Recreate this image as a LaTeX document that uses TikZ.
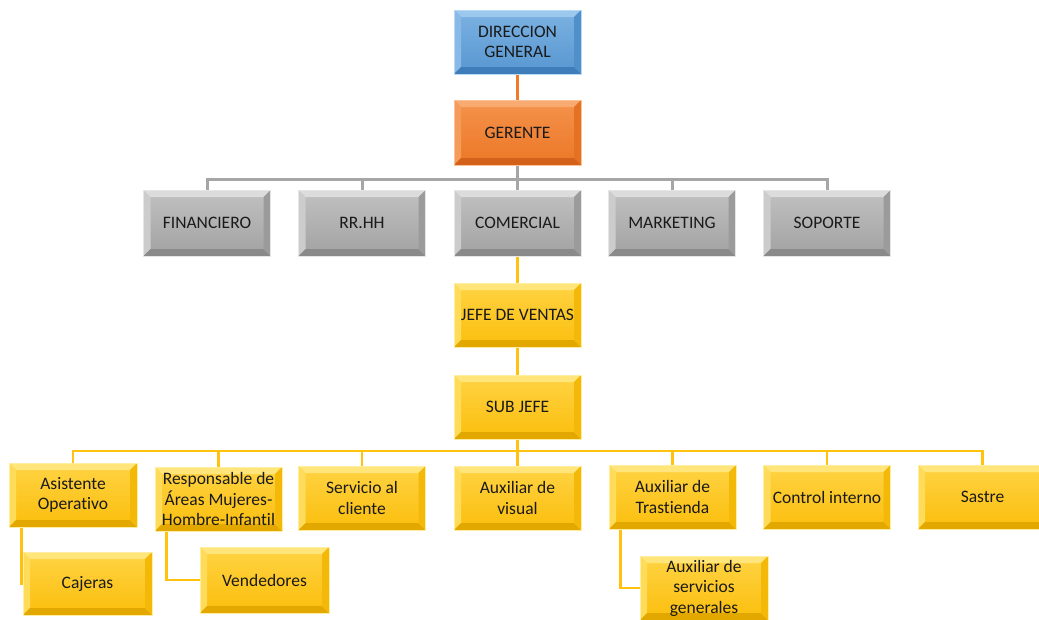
\documentclass[tikz,border=0pt]{standalone}
\usepackage{fontspec}
\setmainfont{Carlito}[Ligatures=NoCommon]
\usetikzlibrary{backgrounds}
\definecolor{bmain}{HTML}{5B9BD5}\definecolor{blight}{HTML}{9DC8EE}\definecolor{bdark}{HTML}{3F7CBA}
\definecolor{omain}{HTML}{F07B28}\definecolor{olight}{HTML}{F9AA70}\definecolor{odark}{HTML}{D4611A}
\definecolor{gmain}{HTML}{A6A6A6}\definecolor{glight}{HTML}{DCDCDC}\definecolor{gdark}{HTML}{8A8A8A}
\definecolor{ymain}{HTML}{FFC20E}\definecolor{ylight}{HTML}{FFE57A}\definecolor{ydark}{HTML}{E3A800}
\definecolor{txt}{HTML}{1A1A1A}
\tikzset{
  box/.style n args={3}{draw=#2!70!white, line width=0.8pt, minimum width=127pt, minimum height=64pt,
    inner sep=1pt, align=center, text=txt, font=\fontsize{17.5}{20.5}\selectfont,
    top color=#2!50!#1, bottom color=#1!85!#3, shading angle=0,
    path picture={
      \def\pb{path picture bounding box}
      \fill[#2] (\pb.north west) -- (\pb.north east) -- ([shift={(-7pt,-7pt)}]\pb.north east) -- ([shift={(7pt,-7pt)}]\pb.north west) -- cycle;
      \fill[#2!70!#1] (\pb.north west) -- (\pb.south west) -- ([shift={(7pt,7pt)}]\pb.south west) -- ([shift={(7pt,-7pt)}]\pb.north west) -- cycle;
      \fill[#3] (\pb.south west) -- (\pb.south east) -- ([shift={(-7pt,7pt)}]\pb.south east) -- ([shift={(7pt,7pt)}]\pb.south west) -- cycle;
      \fill[#1!60!#3] (\pb.north east) -- (\pb.south east) -- ([shift={(-7pt,7pt)}]\pb.south east) -- ([shift={(-7pt,-7pt)}]\pb.north east) -- cycle;
    }},
  bluebox/.style={box={bmain}{blight}{bdark}},
  orangebox/.style={box={omain}{olight}{odark}},
  graybox/.style={box={gmain}{glight}{gdark}},
  yelbox/.style={box={ymain}{ylight}{ydark}},
  oline/.style={draw=omain, line width=3pt},
  gline/.style={draw=gmain, line width=3pt},
  yline/.style={draw=ymain, line width=2.6pt},
}
\begin{document}
\begin{tikzpicture}[x=1pt,y=-1pt]
\useasboundingbox (0,0) rectangle (1039,619);
% top
\node[bluebox] (dg) at (517.5,42) {DIRECCION\\GENERAL};
\node[orangebox, minimum height=65pt] (ger) at (517.5,132.5) {GERENTE};
% gray row
\node[graybox, minimum height=66pt] (fin) at (207,223) {FINANCIERO};
\node[graybox, minimum height=66pt] (rrhh) at (362,223) {RR.HH};
\node[graybox, minimum height=66pt] (com) at (517.5,223) {COMERCIAL};
\node[graybox, minimum height=66pt] (mkt) at (672,223) {MARKETING};
\node[graybox, minimum height=66pt] (sop) at (827,223) {SOPORTE};
% yellow chain
\node[yelbox] (jefe) at (517.5,315) {JEFE DE VENTAS};
\node[yelbox] (sub) at (517.5,407) {SUB JEFE};
% row 3
\node[yelbox, minimum width=128pt] (asi) at (73,495) {Asistente\\Operativo};
\node[yelbox, inner sep=0pt] (resp) at (218.5,499) {Responsable de\\Áreas Mujeres-\\Hombre-Infantil};
\node[yelbox] (serv) at (362,498) {Servicio al\\cliente};
\node[yelbox] (vis) at (517.5,498) {Auxiliar de\\visual};
\node[yelbox] (tras) at (672.5,497) {Auxiliar de\\Trastienda};
\node[yelbox] (ctrl) at (827,497) {Control interno};
\node[yelbox, minimum width=129pt] (sas) at (982.5,497) {Sastre};
% row 4
\node[yelbox, minimum width=129pt, minimum height=63pt] (caj) at (87.5,583.5) {Cajeras};
\node[yelbox, minimum width=129pt, minimum height=66pt] (ven) at (264.5,580) {Vendedores};
\node[yelbox, minimum width=128pt] (sg) at (704,588) {Auxiliar de\\servicios\\generales};
\coordinate (gb) at (0,179);
\coordinate (yb) at (0,451);
\begin{scope}[on background layer]
\draw[oline] (dg.south) -- (ger.north);
\foreach \n in {fin,rrhh,com,mkt,sop} \draw[gline] (ger.south) -- (ger.south |- gb) -| (\n.north);
\draw[yline] (com.south) -- (jefe.north);
\draw[yline] (jefe.south) -- (sub.north);
\foreach \n in {asi,resp,serv,vis,tras,ctrl,sas} \draw[yline] (sub.south) -- (sub.south |- yb) -| (\n.north);
\draw[yline] ([xshift=13pt]asi.south west) |- (caj.west);
\draw[yline] ([xshift=12pt]resp.south west) |- (ven.west);
\draw[yline] ([xshift=12pt]tras.south west) |- (sg.west);
\end{scope}
\end{tikzpicture}
\end{document}
